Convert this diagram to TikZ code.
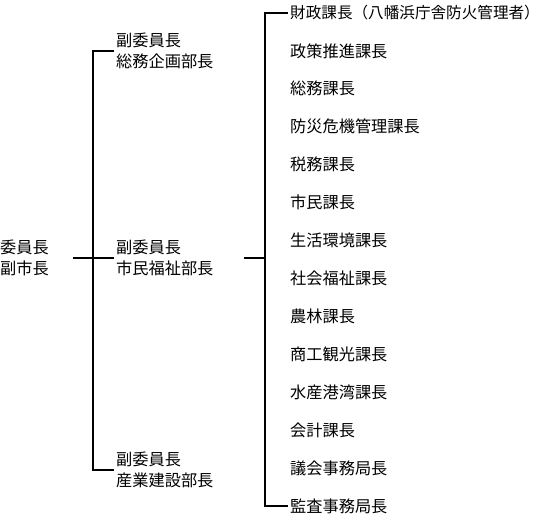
\documentclass[tikz,border=0pt]{standalone}
\usepackage{fontspec}
\newfontfamily\cjk{Noto Sans CJK JP}
\begin{document}
\begin{tikzpicture}[x=1pt,y=-1pt,
  lbl/.style={anchor=west,inner ysep=0pt,inner xsep=2pt,align=left,
    font=\cjk\fontsize{16.2}{21.5}\selectfont},
  conn/.style={line width=1.3pt,line cap=butt}]
\useasboundingbox (0,0) rectangle (544,514);
\node[lbl,inner xsep=0pt] (root) at (0,258) {委員長\\副市長};
\node[lbl] (v1) at (114,51) {副委員長\\総務企画部長};
\node[lbl] (v2) at (114,258) {副委員長\\市民福祉部長};
\node[lbl] (v3) at (114,470) {副委員長\\産業建設部長};
\node[lbl,font=\cjk\fontsize{15.6}{21.5}\selectfont] (i1) at (288,13) {財政課長（八幡浜庁舎防火管理者）};
\foreach \n/\t [count=\k from 1] in {
  i2/政策推進課長,
  i3/総務課長,
  i4/防災危機管理課長,
  i5/税務課長,
  i6/市民課長,
  i7/生活環境課長,
  i8/社会福祉課長,
  i9/農林課長,
  i10/商工観光課長,
  i11/水産港湾課長,
  i12/会計課長,
  i13/議会事務局長,
  i14/監査事務局長}
  \node[lbl] (\n) at (288,13+\k*37.92) {\t};
\coordinate (rb) at (265,258);
\draw[conn] (v1.west) -- ++(-21,0) |- (v3.west);
\draw[conn] ([xshift=24pt]root.east) -- (v2.west);
\draw[conn] (i1.west) -- ++(-23,0) |- (i14.west);
\draw[conn] ([xshift=28pt]v2.east) -- (rb);
\end{tikzpicture}
\end{document}
